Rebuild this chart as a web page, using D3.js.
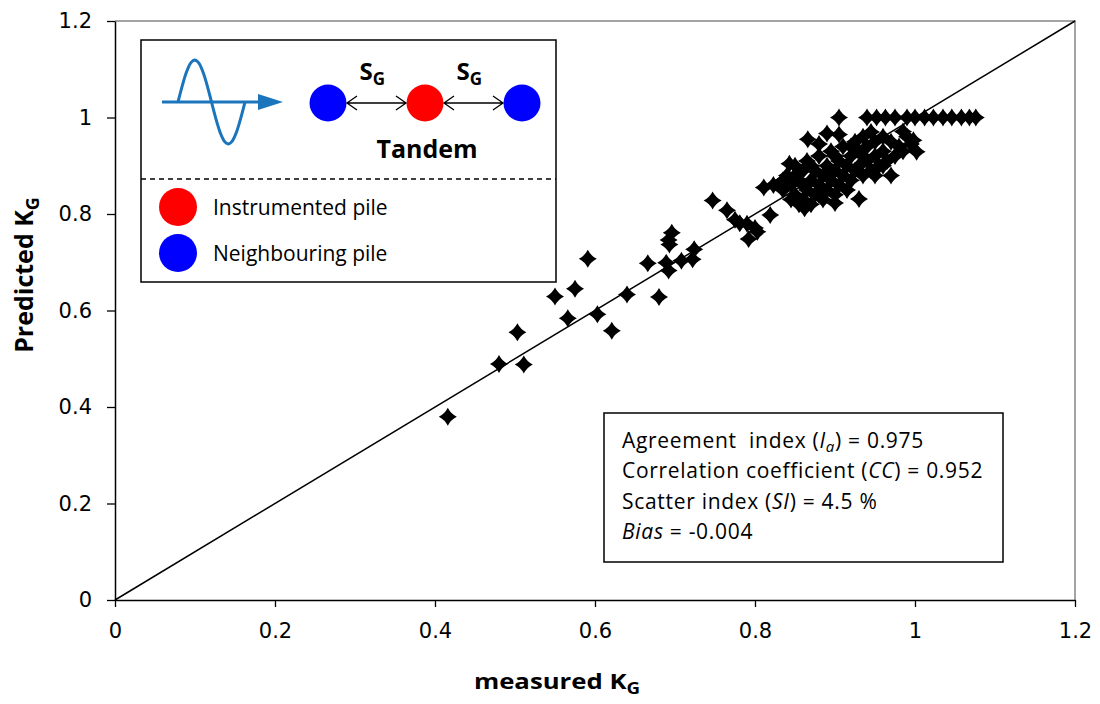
<!DOCTYPE html>
<html lang="en">
<head>
<meta charset="UTF-8">
<title>Predicted vs measured KG</title>
<script src="https://d3js.org/d3.v7.min.js"></script>
<style>
    body { margin: 0; padding: 0; background: #fff; }
    svg { display: block; }
    text { white-space: pre; }
</style>
</head>
<body>
<div id="chart"></div>
<script>
// measured K_G (x) and predicted K_G (y)
var measured = [
    0.416, 0.480, 0.511, 0.503, 0.566, 0.550, 0.575, 0.591, 0.603, 0.621,
    0.640, 0.680, 0.666, 0.692, 0.689, 0.693, 0.696, 0.692, 0.708, 0.722,
    0.724, 0.747, 0.765, 0.775, 0.792, 0.781, 0.790, 0.800, 0.819, 0.803,
    0.811, 0.823, 0.843, 0.866, 0.890, 0.905, 0.930, 1.002, 0.998, 0.985,
    0.862, 0.900,
    0.940, 0.952, 0.963, 0.975, 0.990, 1.000, 1.012, 1.023, 1.035, 1.046,
    1.058, 1.068, 1.076,
    0.840, 0.845, 0.850, 0.850, 0.855, 0.860, 0.860, 0.865, 0.865, 0.870,
    0.870, 0.875, 0.875, 0.880, 0.880, 0.885, 0.885, 0.890, 0.890, 0.895,
    0.895, 0.900, 0.900, 0.905, 0.905, 0.910, 0.910, 0.915, 0.915, 0.920,
    0.920, 0.925, 0.925, 0.930, 0.930, 0.935, 0.935, 0.940, 0.940, 0.945,
    0.945, 0.950, 0.950, 0.955, 0.960, 0.960, 0.965, 0.970, 0.975, 0.980,
    0.990, 0.985, 0.995, 0.970, 0.880, 0.905,
    0.835, 0.850, 0.860, 0.870, 0.880, 0.845, 0.890, 0.900, 0.920, 0.935,
    0.950, 0.960, 0.835, 0.855
];
var predicted = [
    0.380, 0.489, 0.488, 0.555, 0.584, 0.629, 0.645, 0.707, 0.592, 0.558,
    0.633, 0.628, 0.698, 0.683, 0.699, 0.737, 0.761, 0.746, 0.703, 0.706,
    0.727, 0.828, 0.808, 0.788, 0.748, 0.781, 0.780, 0.771, 0.798, 0.763,
    0.855, 0.860, 0.904, 0.955, 0.967, 1.000, 0.831, 0.929, 0.953, 0.971,
    0.812, 0.823,
    1.000, 1.000, 1.000, 1.000, 1.000, 1.000, 1.000, 1.000, 1.000, 1.000,
    1.000, 1.000, 1.000,
    0.880, 0.860, 0.900, 0.840, 0.870, 0.890, 0.830, 0.850, 0.910, 0.870,
    0.820, 0.890, 0.840, 0.920, 0.860, 0.880, 0.830, 0.900, 0.850, 0.930,
    0.870, 0.890, 0.840, 0.910, 0.860, 0.940, 0.880, 0.900, 0.850, 0.920,
    0.870, 0.950, 0.890, 0.930, 0.900, 0.960, 0.880, 0.940, 0.910, 0.970,
    0.890, 0.950, 0.920, 0.900, 0.960, 0.930, 0.910, 0.950, 0.920, 0.940,
    0.960, 0.930, 0.945, 0.880, 0.945, 0.965,
    0.870, 0.880, 0.860, 0.900, 0.840, 0.830, 0.880, 0.920, 0.940, 0.920,
    0.880, 0.900, 0.850, 0.820
];
var xTicks = [0, 0.2, 0.4, 0.6, 0.8, 1, 1.2];
var yTicks = [0, 0.2, 0.4, 0.6, 0.8, 1, 1.2];
var statLines = [
    [["Agreement  index (", ""], ["I", "it"], ["a", "itsub"], [") = 0.975", "up"]],
    [["Correlation coefficient (", ""], ["CC", "it"], [") = 0.952", ""]],
    [["Scatter index (", ""], ["SI", "it"], [") = 4.5 %", ""]],
    [["Bias", "it"], [" = -0.004", ""]]
];

var width = 1100, height = 704;
var plotLeft = 115, plotRight = 1075, plotTop = 21, plotBottom = 600;
var calibri = "'Open Sans', Lato, sans-serif";
var arial = "'DejaVu Sans', 'Liberation Sans', sans-serif";

var svg = d3.select("#chart").append("svg")
    .attr("width", width)
    .attr("height", height)
    .attr("viewBox", [0, 0, width, height]);

var x = d3.scaleLinear().domain([0, 1.2]).range([plotLeft, plotRight]);
var y = d3.scaleLinear().domain([0, 1.2]).range([plotBottom, plotTop]);

// plot area frame (grey top/right)
svg.append("path")
    .attr("d", "M" + plotLeft + "," + plotTop + "H" + plotRight + "V" + plotBottom)
    .attr("fill", "none")
    .attr("stroke", "#868686")
    .attr("stroke-width", 1.5);

// axes
var xAxis = svg.append("g")
    .attr("transform", "translate(0," + plotBottom + ")")
    .call(d3.axisBottom(x).tickValues(xTicks).tickSize(7).tickSizeOuter(0).tickPadding(12)
        .tickFormat(d3.format("~g")));
var yAxis = svg.append("g")
    .attr("transform", "translate(" + plotLeft + ",0)")
    .call(d3.axisLeft(y).tickValues(yTicks).tickSize(8).tickSizeOuter(0).tickPadding(15)
        .tickFormat(d3.format("~g")));
[xAxis, yAxis].forEach(function(a) {
    a.select(".domain").attr("stroke", "#000").attr("stroke-width", 1.5);
    a.selectAll(".tick line").attr("stroke", "#000").attr("stroke-width", 1.3);
    a.selectAll(".tick text").style("font-family", arial).style("font-size", "21px").attr("fill", "#000");
});
xAxis.selectAll(".tick text").attr("dy", "0.9em");

// 1:1 line
svg.append("line")
    .attr("x1", x(0)).attr("y1", y(0))
    .attr("x2", x(1.2)).attr("y2", y(1.2))
    .attr("stroke", "#000")
    .attr("stroke-width", 1.5);

// points
var pts = measured.map(function(m, i) { return { m: m, p: predicted[i] }; });
var diamond = "M0,-9Q3,-3 9,0Q3,3 0,9Q-3,3 -9,0Q-3,-3 0,-9Z";
svg.append("g").selectAll("path")
    .data(pts)
    .enter()
    .append("path")
    .attr("d", diamond)
    .attr("transform", function(d) { return "translate(" + x(d.m) + "," + y(d.p) + ")"; })
    .attr("fill", "#000");

// axis titles
var xt = svg.append("text")
    .attr("transform", "translate(557,689) scale(1.17,1)")
    .attr("text-anchor", "middle")
    .style("font-family", calibri).style("font-weight", "bold").style("font-size", "22px");
xt.append("tspan").text("measured K");
xt.append("tspan").attr("dy", 5).style("font-size", "16px").text("G");

var yt = svg.append("text")
    .attr("transform", "translate(33,275) rotate(-90)")
    .attr("text-anchor", "middle")
    .style("font-family", calibri).style("font-weight", "bold").style("font-size", "25px");
yt.append("tspan").text("Predicted K");
yt.append("tspan").attr("dy", 6).style("font-size", "18px").text("G");

// legend box
var lg = svg.append("g");
lg.append("rect")
    .attr("x", 141).attr("y", 40).attr("width", 415).attr("height", 242)
    .attr("fill", "#fff").attr("stroke", "#000").attr("stroke-width", 1.5);
lg.append("line")
    .attr("x1", 141).attr("x2", 556).attr("y1", 179).attr("y2", 179)
    .attr("stroke", "#000").attr("stroke-width", 1.3).attr("stroke-dasharray", "5 4");

// wave with arrow
var waveColor = "#1a75bc";
lg.append("line")
    .attr("x1", 162).attr("x2", 262).attr("y1", 102).attr("y2", 102)
    .attr("stroke", waveColor).attr("stroke-width", 3);
lg.append("path")
    .attr("d", "M258,94L283,102L258,110Z")
    .attr("fill", waveColor);
var wave = d3.range(0, 1.0001, 0.02).map(function(t) {
    return [178 + t * 67, 102 - 42 * Math.sin(t * 2 * Math.PI)];
});
lg.append("path")
    .attr("d", d3.line().curve(d3.curveBasis)(wave))
    .attr("fill", "none").attr("stroke", waveColor).attr("stroke-width", 3);

// piles
var piles = [[328, "#0000ff"], [425, "#ff0000"], [522, "#0000ff"]];
lg.selectAll(".pile")
    .data(piles)
    .enter()
    .append("circle")
    .attr("cx", function(d) { return d[0]; })
    .attr("cy", 103)
    .attr("r", 18.5)
    .attr("fill", function(d) { return d[1]; });

// double-headed arrows between piles
[[347, 406], [444, 503]].forEach(function(s) {
    lg.append("path")
        .attr("d", "M" + s[0] + ",103H" + s[1] +
            "M" + (s[0] + 10) + ",96L" + s[0] + ",103L" + (s[0] + 10) + ",110" +
            "M" + (s[1] - 10) + ",96L" + s[1] + ",103L" + (s[1] - 10) + ",110")
        .attr("fill", "none").attr("stroke", "#000").attr("stroke-width", 1.3);
    var t = lg.append("text")
        .attr("x", (s[0] + s[1]) / 2 - 17).attr("y", 80)
        .style("font-family", calibri).style("font-weight", "bold").style("font-size", "24px");
    t.append("tspan").text("S");
    t.append("tspan").attr("dy", 5).style("font-size", "17px").text("G");
});
lg.append("text")
    .attr("x", 427).attr("y", 158)
    .attr("text-anchor", "middle")
    .style("font-family", calibri).style("font-weight", "bold").style("font-size", "25px")
    .text("Tandem");

// legend entries
var entries = [["#ff0000", "Instrumented pile", 207], ["#0000ff", "Neighbouring pile", 253]];
entries.forEach(function(e) {
    lg.append("circle").attr("cx", 178).attr("cy", e[2]).attr("r", 19).attr("fill", e[0]);
    lg.append("text")
        .attr("x", 213).attr("y", e[2] + 8)
        .style("font-family", calibri).style("font-size", "21px")
        .text(e[1]);
});

// statistics box
var sb = svg.append("g");
sb.append("rect")
    .attr("x", 604).attr("y", 413).attr("width", 399).attr("height", 149)
    .attr("fill", "#fff").attr("stroke", "#000").attr("stroke-width", 1.5);
statLines.forEach(function(line, i) {
    var t = sb.append("text")
        .attr("x", 622).attr("y", 448 + i * 30.3)
        .style("font-family", calibri).style("font-size", "21px")
        .style("letter-spacing", "0.7px");
    line.forEach(function(part) {
        var ts = t.append("tspan").text(part[0]);
        if (part[1] === "it") ts.style("font-style", "italic");
        if (part[1] === "itsub") ts.style("font-style", "italic").style("font-size", "15px").attr("dy", 4);
        if (part[1] === "up") ts.attr("dy", -4);
    });
});
</script>
</body>
</html>
